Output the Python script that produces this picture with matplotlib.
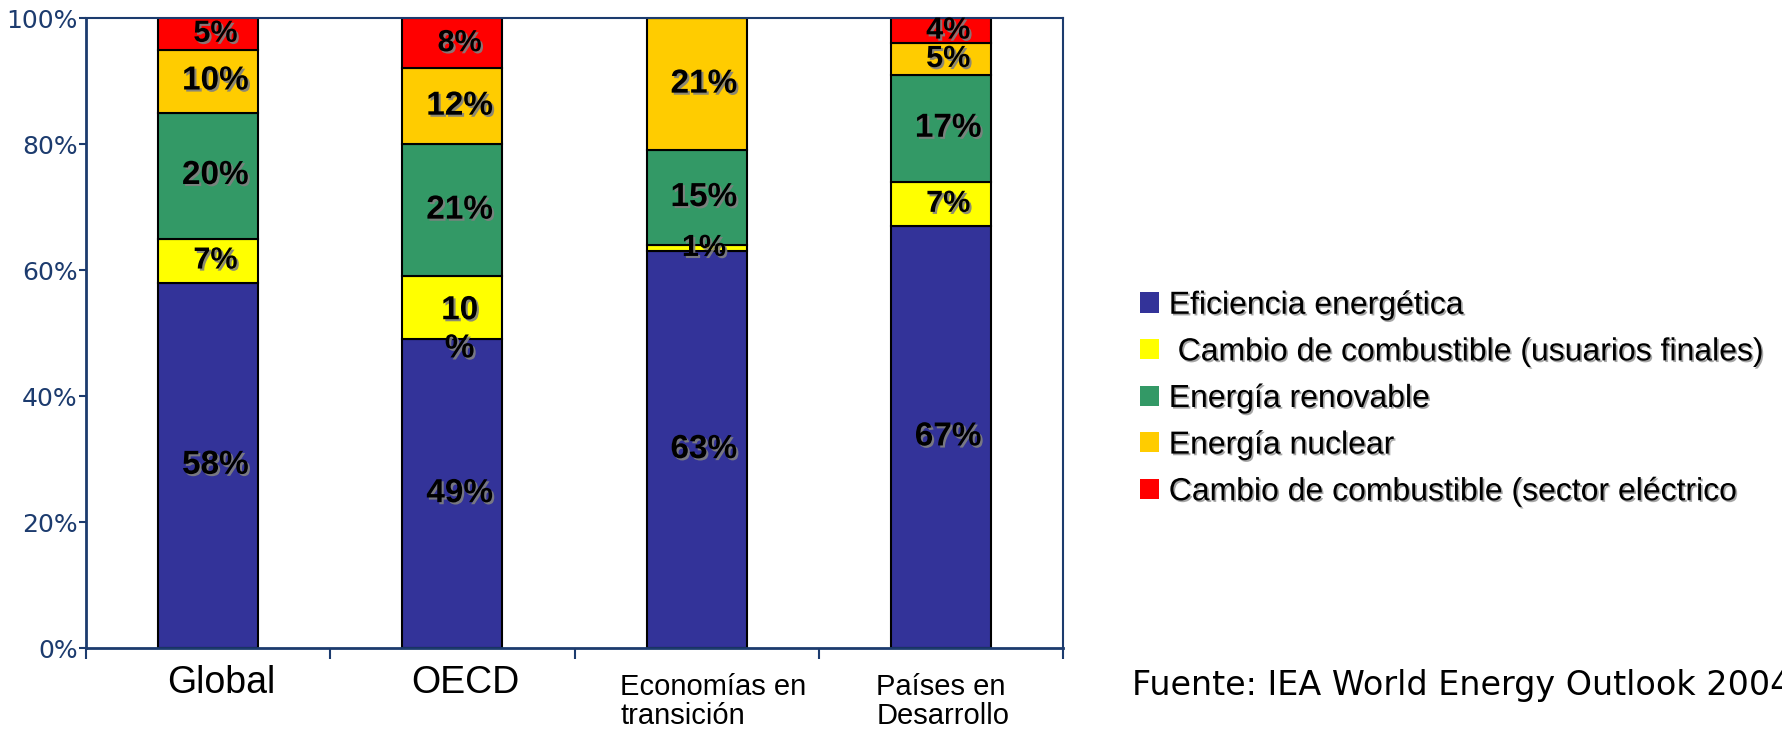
import matplotlib
matplotlib.use("Agg")
import matplotlib.pyplot as plt
import matplotlib.patheffects as pe
from matplotlib.patches import Patch
from matplotlib.transforms import ScaledTranslation
import numpy as np

categories = ["Global", "OECD", "Economías en\ntransición", "Países en\nDesarrollo"]
series = ["Eficiencia energética",
          " Cambio de combustible (usuarios finales)",
          "Energía renovable",
          "Energía nuclear",
          "Cambio de combustible (sector eléctrico"]

eficiencia = [58, 49, 63, 67]
cambio_usuarios = [7, 10, 1, 7]
renovable = [20, 21, 15, 17]
nuclear = [10, 12, 21, 5]
cambio_electrico = [5, 8, 0, 4]

# texts written inside the segments (OECD yellow one wraps in the original)
seg_labels = [
    ["58%", "49%", "63%", "67%"],
    ["7%", "10\n%", "1%", "7%"],
    ["20%", "21%", "15%", "17%"],
    ["10%", "12%", "21%", "5%"],
    ["5%", "8%", "", "4%"],
]

colors = ["#333399", "#FFFF00", "#339966", "#FFCC00", "#FF0000"]
navy = "#1C3B6E"

fig = plt.figure(figsize=(17.82, 7.30), dpi=100)
ax = fig.add_axes([86 / 1782, 1 - 648 / 730, (1063 - 86) / 1782, (648 - 18) / 730])

x = np.arange(len(categories))
data = [eficiencia, cambio_usuarios, renovable, nuclear, cambio_electrico]
bottom = np.zeros(len(categories))
shadow = [pe.withSimplePatchShadow(offset=(1.5, -1.5), shadow_rgbFace="#808080", alpha=0.9)]

for k, vals in enumerate(data):
    vals = np.array(vals, dtype=float)
    ax.bar(x, vals, width=0.41, bottom=bottom, color=colors[k],
           edgecolor="black", linewidth=1.5, zorder=2)
    for i, v in enumerate(vals):
        txt = seg_labels[k][i]
        if not txt:
            continue
        size = 22 if v <= 8 else 24
        if "\n" in txt:
            ty, va = bottom[i] + v * 0.7, "top"
        else:
            ty, va = bottom[i] + v / 2, "center"
        ax.text(x[i] + 0.03, ty, txt, ha="center", va=va, fontsize=size,
                fontweight="bold", family="Liberation Sans", color="black",
                linespacing=1.3, path_effects=shadow, zorder=3)
    bottom += vals

ax.set_xlim(-0.5, 3.5)
ax.set_ylim(0, 100)
ax.set_yticks(np.arange(0, 101, 20))
ax.set_yticklabels([f"{v}%" for v in range(0, 101, 20)])
ax.tick_params(axis="y", direction="out", length=5, width=1.5, pad=1,
               colors=navy, labelsize=18)
for t in ax.get_yticklabels():
    t.set_family("DejaVu Sans")

ax.set_xticks(x)
ax.set_xticklabels(categories)
ax.set_xticks(np.arange(-0.5, 4.0, 1.0), minor=True)
ax.tick_params(axis="x", which="major", length=0, pad=12, labelcolor="black")
ax.tick_params(axis="x", which="minor", direction="out", length=8, width=1.5, color=navy)
shift_right = [13, 13, 17, 2]
for i, t in enumerate(ax.get_xticklabels()):
    t.set_family("Liberation Sans")
    dy = 0
    if "\n" in categories[i]:
        t.set_fontsize(21)
        t.set_multialignment("left")
        t.set_linespacing(1.05)
        dy = -8
    else:
        t.set_fontsize(27)
    t.set_transform(t.get_transform() +
                    ScaledTranslation(shift_right[i] / 100, dy / 100, fig.dpi_scale_trans))

for side in ["left", "bottom"]:
    ax.spines[side].set_color(navy)
    ax.spines[side].set_linewidth(2)
for side in ["top", "right"]:
    ax.spines[side].set_color(navy)
    ax.spines[side].set_linewidth(1.5)

handles = [Patch(facecolor=c, edgecolor="none") for c in colors]
leg = fig.legend(handles, series, loc="center left",
                 bbox_to_anchor=(1140 / 1782, 1 - 399 / 730),
                 frameon=False, borderpad=0, borderaxespad=0,
                 handlelength=0.6, handleheight=0.6,
                 handletextpad=0.3, labelspacing=0.52,
                 prop={"family": "Liberation Sans", "size": 23})
for t in leg.get_texts():
    t.set_path_effects([pe.withSimplePatchShadow(offset=(1.2, -1.2),
                                                 shadow_rgbFace="#909090", alpha=0.8)])

fig.text(1132 / 1782, 1 - 686 / 730, "Fuente: IEA World Energy Outlook 2004",
         ha="left", va="center", fontsize=24, family="DejaVu Sans", color="black")

fig.savefig("out.png", dpi=100)
